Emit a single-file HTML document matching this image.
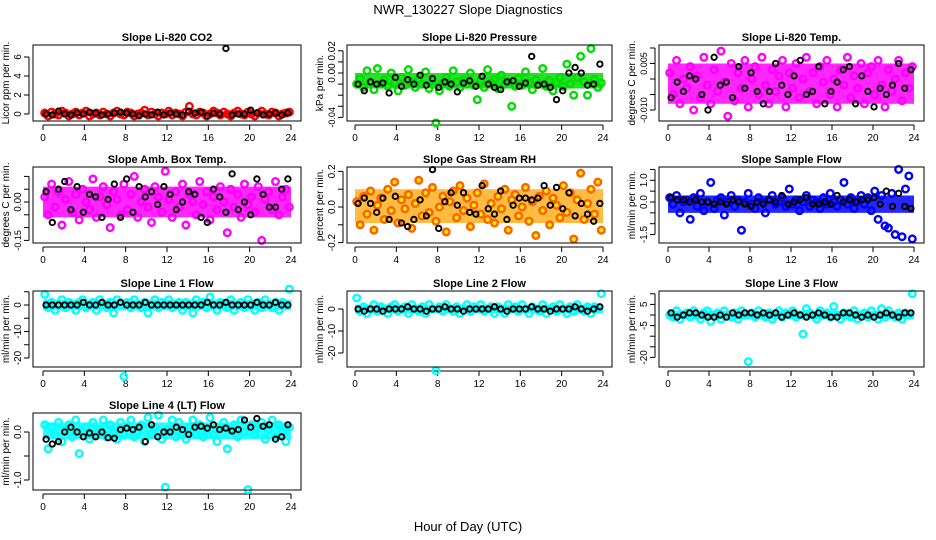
<!DOCTYPE html>
<html><head><meta charset="utf-8"><style>
html,body{margin:0;padding:0;background:#fff;}
svg{display:block;font-family:"Liberation Sans",sans-serif;}
</style></head><body>
<svg id="chart" width="936" height="540" viewBox="0 0 936 540">
<text x="468" y="14" text-anchor="middle" font-size="13">NWR_130227  Slope Diagnostics</text>
<text x="468" y="531" text-anchor="middle" font-size="13">Hour of Day (UTC)</text>
</svg>
<script>
const xTicks=[0,4,8,12,16,20,24];
const co2Vals=[0.1,-0.2,0.2,0.0,-0.1,0.3,0.1,-0.2,0.0,0.2,-0.1,0.1,0.3,-0.2,0.0,0.1,-0.1,0.2,0.0,-0.2,0.1,0.3,0.0,-0.1,0.2,0.1,-0.2,0.0,0.1,0.4,-0.1,0.2,0.0,-0.2,0.1,0.0,0.3,-0.1,0.1,0.0,-0.2,0.2,0.8,0.0,-0.1,0.2,0.1,-0.2,0.0,0.3,0.1,-0.1,0.2,0.0,-0.2,0.1,0.3,0.0,-0.1,0.2,0.0,-0.2,0.1,0.3,0.0,-0.1,0.2,0.1,-0.2,0.0,0.1,0.2];
const co2Black=[0.0,-0.1,0.3,0.0,-0.1,0.1,0.0,0.2,0.1,-0.1,0.0,0.1,0.2,0.1,0.0,-0.2,0.0,-0.1,0.2,-0.1,0.1,0.0,-0.1,0.3,0.1,0.2,-0.2,0.1,0.0,6.9,-0.1,0.0,0.0,0.4,0.1,-0.1,0.0,0.1,-0.1,0.1];
const presVals=[-.010,-.005,-.013,.002,-.008,-.015,.004,-.010,-.006,-.012,.000,-.009,-.016,-.004,-.011,.003,-.008,-.013,-.006,-.010,.001,-.014,-.007,-.045,-.016,-.009,-.004,-.012,.002,-.008,-.013,-.006,-.010,.000,-.011,-.024,-.007,-.013,.003,-.009,-.006,-.014,-.002,-.010,-.008,-.030,-.012,-.005,-.011,.001,-.009,-.015,-.006,-.010,.004,-.012,-.007,-.016,-.009,-.004,-.012,.008,-.010,-.020,-.004,.015,-.008,-.020,.022,-.006,-.013,-.009];
const presBlack=[-.010,-.016,-.008,-.010,-.009,-.018,-.004,-.012,-.006,-.010,-.002,-.011,-.005,-.013,-.008,-.010,-.017,-.009,-.007,-.012,-.003,-.010,-.013,-.015,-.008,-.007,-.012,-.009,.015,-.011,-.010,-.013,-.024,-.016,.000,.005,.000,-.011,-.010,.008];
const tempVals=[.002,-.005,.006,-.008,.000,-.003,.004,-.010,.001,-.006,.007,-.002,-.008,.003,-.004,.009,-.001,-.012,.005,-.007,.002,-.003,.006,-.009,.000,.004,-.005,.007,-.002,-.008,.003,-.004,.001,.006,-.009,.002,-.003,.005,-.006,.000,.007,-.004,.002,-.008,.004,-.001,.006,-.005,.000,-.009,.003,-.002,.007,-.006,.001,-.003,.005,-.008,.002,.004,-.005,.006,-.002,-.009,.003,-.004,.000,.006,-.007,.002,-.003,.004];
const tempBlack=[-.006,-.001,-.004,.001,.000,-.005,-.010,.007,-.002,-.001,-.006,.004,-.003,.002,-.004,-.008,-.004,.005,-.002,-.005,.001,.006,-.005,-.004,.004,-.008,-.004,-.001,.003,.004,-.008,.001,-.004,-.009,-.003,-.005,-.002,.005,-.003,.003];
const ambVals=[.02,-.05,.07,-.02,.04,-.09,.01,.08,-.04,.03,-.07,.05,.00,-.03,.09,-.06,.02,.06,-.01,-.10,.04,.01,-.05,.07,-.03,.03,.10,-.06,.00,.05,-.02,-.08,.06,.02,-.04,.12,.01,-.06,.04,-.02,.07,-.09,.03,.00,-.05,.08,-.01,.04,-.07,.02,-.03,.06,.00,-.12,.05,-.02,.03,-.06,.07,-.01,.02,-.04,.06,-.15,.01,.04,-.03,.08,-.05,.02,.05,-.02];
const ambBlack=[.04,-.08,.05,.08,-.03,.06,-.04,.03,.02,-.06,.01,.07,-.06,.09,-.04,.06,.02,.04,-.01,.06,.03,-.03,.00,.04,.03,-.06,-.08,.05,.02,-.04,.11,-.03,.00,-.05,.09,.03,-.02,-.02,.05,.09];
const rhVals=[.03,-.10,.06,-.04,.09,-.13,.01,.05,-.07,.10,-.02,.14,-.09,.04,-.01,.07,-.12,.02,.15,-.05,.08,-.03,.11,-.08,.00,.06,-.14,.03,.09,-.06,.12,-.02,.05,-.11,.01,.08,-.04,.13,-.07,.02,-.09,.06,-.01,.10,-.13,.04,.07,-.05,.00,.11,-.08,.03,-.16,.06,-.02,.09,-.10,.05,.01,-.06,.12,-.03,.08,-.18,.04,.19,-.07,.02,.10,-.04,.14,-.13];
const rhBlack=[.02,.05,.02,-.03,.05,-.07,.06,-.09,-.11,-.07,.04,-.05,.21,-.12,.03,.08,.01,.08,-.03,-.04,.12,-.01,-.04,.09,-.07,.01,.05,.05,.04,.05,.12,.01,.11,-.01,.08,-.05,.02,-.04,-.08,.02];
const sfVals=[.2,-.1,.3,-.5,.0,.1,-.8,.2,-.2,.4,-.4,.0,.9,-.3,.1,.2,-.6,.0,.3,-.2,.1,-1.3,.0,.4,-.1,-.3,.2,.0,-.5,.1,.3,-.1,.0,.2,-.2,.6,-.1,.1,-.4,.0,.3,-.2,.1,.0,-.3,.2,-.1,.4,.0,-.2,.1,.9,-.1,.2,-.3,.0,.3,-.1,.2,-.4,.5,-.8,.3,-1.1,-1.2,.4,-1.5,1.5,-1.6,.6,1.2,-1.7];
const sfBlack=[.2,.1,.1,.0,.1,.0,.0,-.1,.0,-.1,.1,.0,-.1,-.2,.0,-.1,.1,.0,.3,-.1,.0,.1,.2,-.1,-.1,.0,-.1,.3,.0,.1,.0,.1,.1,.2,-.1,.5,-.2,.4,-.2,-.3];
const l1Vals=[4,-1,1,-2,0,2,-1,1,0,-2,1,2,-1,0,1,-2,2,0,-1,1,-3,2,0,-27,1,-1,2,0,-1,1,-3,0,2,-1,1,0,2,-1,0,1,-2,1,0,-3,2,0,1,-1,3,0,-2,1,0,-1,2,-2,0,1,-1,2,0,-2,1,-1,2,0,-1,1,-2,1,0,6];
const l1Black=[0,0,0,0,0,0,1,0,0,1,0,0,1,0,0,0,1,0,0,0,0,0,0,0,0,0,1,0,0,1,0,0,0,0,1,0,0,1,0,0];
const l2Vals=[5,-1,1,-2,0,2,-1,1,0,-2,1,2,-1,0,1,-2,2,0,-1,1,-2,2,0,-28,1,-1,2,0,-1,1,-2,0,2,-1,1,0,2,-1,0,1,-2,1,0,-2,2,0,1,-1,2,0,-2,1,0,-1,2,-2,0,1,-1,2,0,-2,1,-1,2,0,-1,1,-2,1,0,7];
const l2Black=[0,-1,0,0,-1,0,0,0,1,0,0,-1,0,0,1,0,0,-1,0,0,0,0,1,0,-1,0,0,0,1,0,0,-1,0,0,0,1,0,-1,0,1];
const l3Vals=[0,-1,2,-2,0,1,-1,2,0,-2,1,2,-3,0,1,-2,2,0,-1,1,-2,2,0,-22,1,-1,2,0,-1,1,-2,0,2,-1,1,0,2,-1,0,-9,3,1,0,-2,2,0,1,-1,4,0,-2,1,0,-1,2,-2,0,1,-1,2,0,-2,3,-1,2,0,-1,1,-2,1,0,10];
const l3Black=[1,-1,0,1,1,0,-1,-1,0,-1,1,0,1,1,0,1,0,1,-1,0,1,0,-1,0,1,0,-1,-1,1,1,0,-1,0,-1,0,1,0,-1,1,1];
const l4Vals=[.15,-.35,.10,-.05,.20,-.20,.05,.15,-.10,.25,-.45,.00,.10,-.15,.20,-.05,.05,.25,-.10,.15,.00,-.15,.20,-.05,.10,.25,-.10,.00,.15,-.20,.30,-.05,.10,.35,-.15,-1.15,.05,.25,-.10,.20,.00,-.15,.10,.25,-.05,.15,-.10,.05,.30,-.05,-.20,.10,.20,-.35,.05,.15,-.10,.25,.00,-1.20,.15,-.05,.10,.20,-.15,.05,.25,-.10,.15,.00,-.20,.10];
const l4Black=[-.15,-.25,-.2,.0,.1,.0,-.1,-.02,-.1,.0,-.12,-.13,.05,.08,.05,.1,-.2,.15,-.1,.0,.0,.1,.05,-.05,.1,.12,.08,.15,.05,.08,.02,.05,.25,.1,.28,.12,.15,-.15,-.1,.15];

const colL=[33,347,659],colR=[301,612,924],colX0=[43,355,668],colX24=[291,603,914];
const rowT=[45,167,291,413],rowB=[121,243,367,490];
const panels=[
{title:"Slope Li-820 CO2",ylab:"Licor ppm per min.",col:0,row:0,color:"#ff0000",fill:"none",band:"#ff0000",vals:co2Vals,black:co2Black,y0:114,sc:9.5,ticks:[0,2,4,6],labs:["0","2","4","6"]},
{title:"Slope Li-820 Pressure",ylab:"kPa per min.",col:1,row:0,color:"#00dd00",fill:"none",band:"#00dd00",vals:presVals,black:presBlack,y0:73,sc:1110,ticks:[.02,.01,0,-.01,-.02,-.03,-.04],labs:["0.02","","0.00","","","","-0.04"]},
{title:"Slope Li-820 Temp.",ylab:"degrees C per min.",col:2,row:0,color:"#ff00ff",fill:"none",band:"#ff00ff",vals:tempVals,black:tempBlack,y0:79,sc:3100,ticks:[.01,.005,0,-.005,-.01],labs:["","0.005","","","-0.010"]},
{title:"Slope Amb. Box Temp.",ylab:"degrees C per min.",col:0,row:1,color:"#ff00ff",fill:"none",band:"#ff00ff",vals:ambVals,black:ambBlack,y0:202,sc:256,ticks:[.1,.05,0,-.05,-.1,-.15],labs:["","","0.00","","","-0.15"]},
{title:"Slope Gas Stream RH",ylab:"percent per min.",col:1,row:1,color:"#ff6000",fill:"#ffee00",band:"#ffb020",vals:rhVals,black:rhBlack,y0:207,sc:178,ticks:[.2,.1,0,-.1,-.2],labs:["0.2","","0.0","","-0.2"]},
{title:"Slope Sample Flow",ylab:"ml/min per min.",col:2,row:1,color:"#0000ff",fill:"none",band:"#0000ff",vals:sfVals,black:sfBlack,y0:202,sc:21.7,ticks:[1.5,1,.5,0,-.5,-1,-1.5],labs:["","1.0","","0.0","","","-1.5"]},
{title:"Slope Line 1 Flow",ylab:"ml/min per min.",col:0,row:2,color:"#00ffff",fill:"none",band:"#00ffff",vals:l1Vals,black:l1Black,y0:305,sc:2.65,ticks:[5,0,-5,-10,-15,-20],labs:["","0","","-10","","-20"]},
{title:"Slope Line 2 Flow",ylab:"ml/min per min.",col:1,row:2,color:"#00ffff",fill:"none",band:"#00ffff",vals:l2Vals,black:l2Black,y0:309,sc:2.2,ticks:[0,-10,-20],labs:["0","-10","-20"]},
{title:"Slope Line 3 Flow",ylab:"ml/min per min.",col:2,row:2,color:"#00ffff",fill:"none",band:"#00ffff",vals:l3Vals,black:l3Black,y0:315,sc:2.12,ticks:[10,5,0,-5,-10,-15,-20],labs:["","5","","-5","","","-20"]},
{title:"Slope Line 4 (LT) Flow",ylab:"ml/min per min.",col:0,row:3,color:"#00ffff",fill:"none",band:"#00ffff",vals:l4Vals,black:l4Black,y0:432,sc:48,ticks:[0,-.5,-1],labs:["0.0","","-1.0"]}
];
const NS="http://www.w3.org/2000/svg";
const svg=document.getElementById('chart');
function mk(tag,attrs,parent){const e=document.createElementNS(NS,tag);for(const k in attrs)e.setAttribute(k,attrs[k]);(parent||svg).appendChild(e);return e;}
function quant(arr,q){const s=arr.slice().sort((a,b)=>a-b);return s[Math.floor(q*(s.length-1))];}
panels.forEach((p,pi)=>{
  const g=mk('g',{});
  
  
  const L=colL[p.col],R=colR[p.col],T=rowT[p.row],B=rowB[p.row];
  const xs=h=>colX0[p.col]+(colX24[p.col]-colX0[p.col])*h/24;
  const ys=v=>p.y0-v*p.sc;
  const t=mk('text',{x:(L+R)/2,y:T-4,'text-anchor':'middle','font-size':11,'font-weight':'bold'},g);
  t.textContent=p.title;
  
  
  const cx=L-24,cy=(T+B)/2;
  const yl=mk('text',{x:cx,y:cy,'text-anchor':'middle','font-size':10,transform:`rotate(-90 ${cx} ${cy})`},g);
  yl.textContent=p.ylab;
  
  
  mk('line',{x1:xs(0),x2:xs(24),y1:B+4,y2:B+4,stroke:'#000'},g);
  xTicks.forEach(h=>{
    mk('line',{x1:xs(h),x2:xs(h),y1:B+4,y2:B+9,stroke:'#000'},g);
    const tl=mk('text',{x:xs(h),y:B+20,'text-anchor':'middle','font-size':10},g);
    tl.textContent=h;
    
    
  });
  const yt=p.ticks.map(ys);
  mk('line',{x1:L-4,x2:L-4,y1:Math.min(...yt),y2:Math.max(...yt),stroke:'#000'},g);
  p.ticks.forEach((v,i)=>{
    const y=ys(v);
    mk('line',{x1:L-9,x2:L-4,y1:y,y2:y,stroke:'#000'},g);
    if(p.labs[i]){
      const tx=L-12;
      const tl=mk('text',{x:tx,y:y,'text-anchor':'middle','font-size':p.labs[i].length>4?9:10,transform:`rotate(-90 ${tx} ${y})`},g);
      tl.textContent=p.labs[i];
      
      
    }
  });
  // dense cloud core derived from the series spread
  const lo=quant(p.vals,0.15),hi=quant(p.vals,0.85);
  const band=mk('rect',{x:xs(0),y:ys(hi),width:xs(24)-xs(0),height:Math.max(2,ys(lo)-ys(hi)),fill:p.band,opacity:0.85},g);
  
  
  const n=p.vals.length;
  p.vals.forEach((v,i)=>{
    const c=mk('circle',{cx:xs((i+0.5)*24/n),cy:ys(v),r:3.3,fill:p.fill,stroke:p.color,'stroke-width':2.4},g);
    
    
  });
  const m=p.black.length;
  p.black.forEach((v,i)=>{
    const c=mk('circle',{cx:xs((i+0.5)*24/m),cy:ys(v),r:2.7,fill:'none',stroke:'#000','stroke-width':1.9},g);
    
    
  });
  const box=mk('rect',{x:L,y:T,width:R-L,height:B-T,fill:'none',stroke:'#000','stroke-width':1},g);
  
  
});
</script>
</body></html>
